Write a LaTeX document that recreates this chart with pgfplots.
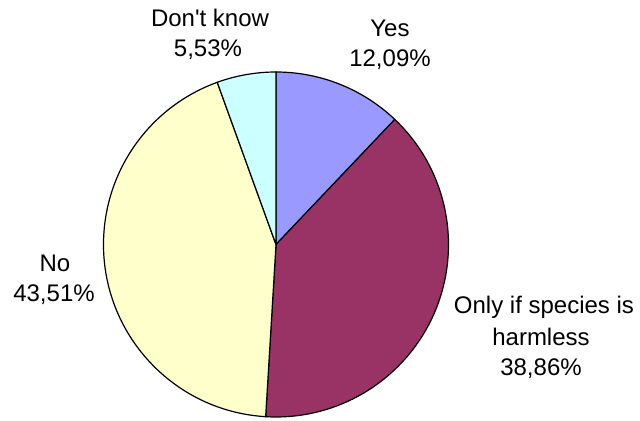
\documentclass[border=0pt]{standalone}
\usepackage{pgfplots}
\usepackage{pgfplotstable}
\pgfplotsset{compat=1.18}
\usepackage{fontspec}
\setmainfont{Liberation Sans}
\definecolor{cYes}{HTML}{9999FF}
\definecolor{cOnly}{HTML}{993366}
\definecolor{cNo}{HTML}{FFFFCC}
\definecolor{cDk}{HTML}{CCFFFF}
\pgfplotstableread{
label value
Yes 12.09
Only 38.86
No 43.51
DontKnow 5.53
}\piedata
\begin{document}
\begin{tikzpicture}
\useasboundingbox (0,0) rectangle (640bp,421bp);
\pgfplotstablegetelem{0}{value}\of\piedata \let\vA\pgfplotsretval
\pgfplotstablegetelem{1}{value}\of\piedata \let\vB\pgfplotsretval
\pgfplotstablegetelem{2}{value}\of\piedata \let\vC\pgfplotsretval
\pgfplotstablegetelem{3}{value}\of\piedata \let\vD\pgfplotsretval
\pgfmathsetmacro\tot{\vA+\vB+\vC+\vD}
\pgfmathsetmacro\aA{90}
\pgfmathsetmacro\aB{\aA-360*\vA/\tot}
\pgfmathsetmacro\aC{\aB-360*\vB/\tot}
\pgfmathsetmacro\aD{\aC-360*\vC/\tot}
\pgfmathsetmacro\aE{\aD-360*\vD/\tot}
\begin{axis}[
  at={(0,0)}, anchor=south west,
  scale only axis, width=640bp, height=421bp,
  xmin=0, xmax=640, ymin=0, ymax=421,
  hide axis, clip=false,
]
\coordinate (C) at (axis cs:276,176.5);
\fill[cYes, draw=black, line width=1.2bp] (C) -- ++(\aA:172.5bp) arc[start angle=\aA, end angle=\aB, radius=172.5bp] -- cycle;
\fill[cOnly, draw=black, line width=1.2bp] (C) -- ++(\aB:172.5bp) arc[start angle=\aB, end angle=\aC, radius=172.5bp] -- cycle;
\fill[cNo, draw=black, line width=1.2bp] (C) -- ++(\aC:172.5bp) arc[start angle=\aC, end angle=\aD, radius=172.5bp] -- cycle;
\fill[cDk, draw=black, line width=1.2bp] (C) -- ++(\aD:172.5bp) arc[start angle=\aD, end angle=\aE, radius=172.5bp] -- cycle;
\tikzset{lbl/.style={anchor=base, inner sep=0pt, font=\fontsize{24bp}{30bp}\selectfont}}
\node[lbl] at (axis cs:390,384) {Yes};
\node[lbl] at (axis cs:390,354) {12,09\%};
\node[lbl] at (axis cs:210,394) {Don\textquotesingle t know};
\node[lbl] at (axis cs:208,364) {5,53\%};
\node[lbl] at (axis cs:55,149) {No};
\node[lbl] at (axis cs:54,119) {43,51\%};
\node[lbl] at (axis cs:544,107) {Only if species is};
\node[lbl] at (axis cs:541,75) {harmless};
\node[lbl] at (axis cs:541,45) {38,86\%};
\end{axis}
\end{tikzpicture}
\end{document}
